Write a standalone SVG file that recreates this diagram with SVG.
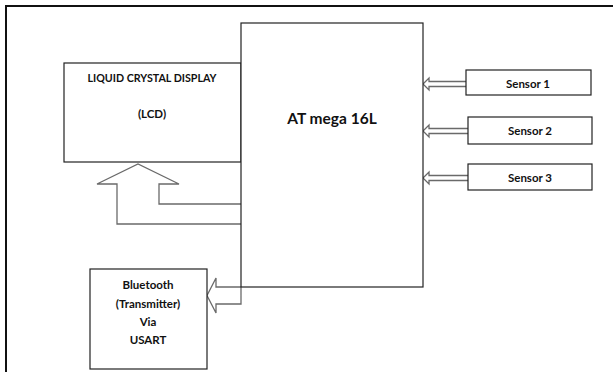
<svg xmlns="http://www.w3.org/2000/svg" width="613" height="372" viewBox="0 0 613 372">
<style>
.box{fill:#fff;stroke:#222;stroke-width:1.2}
.arr{fill:#fff;stroke:#6a6a6a;stroke-width:1.3;stroke-linejoin:miter}
.t{font-family:Lato,"Open Sans","Liberation Sans",sans-serif;font-weight:bold;fill:#111;text-anchor:middle}
.s{font-size:11.5px}
.m{font-size:15.5px}
</style>
<rect width="613" height="372" fill="#fff"/>
<path d="M6 372 V6 H613" fill="none" stroke="#111" stroke-width="2"/>
<g id="connectors">
<path class="arr" d="M241 224 H117 V184 H97 L138 164 L179 184 H159 V204 H241"/>
<path class="arr" d="M241 287 V304 H216 V313 L207 295.5 L216 278 V287 Z"/>
<path class="arr" d="M466 81.5 H429 V78 L423 84 L429 90 V86.5 H466"/>
<path class="arr" d="M468 128.5 H429 V125 L423 131 L429 137 V133.5 H468"/>
<path class="arr" d="M468 175.5 H429 V172 L423 178 L429 184 V180.5 H468"/>
</g>
<g id="lcd">
<rect class="box" x="64" y="63" width="177" height="99"/>
<text class="t s" x="152" y="82" textLength="129" lengthAdjust="spacingAndGlyphs">LIQUID CRYSTAL DISPLAY</text>
<text class="t s" x="152" y="118">(LCD)</text>
</g>
<g id="atmega">
<rect class="box" x="241" y="23" width="182" height="264"/>
<text class="t m" x="332" y="124">AT mega 16L</text>
</g>
<g id="bluetooth">
<rect class="box" x="90" y="269" width="117" height="100"/>
<text class="t s" x="148" y="289">Bluetooth</text>
<text class="t s" x="148" y="308">(Transmitter)</text>
<text class="t s" x="148" y="326">Via</text>
<text class="t s" x="148" y="344">USART</text>
</g>
<g id="sensor1">
<rect class="box" x="466" y="70" width="125" height="25"/>
<text class="t s" x="528" y="88">Sensor 1</text>
</g>
<g id="sensor2">
<rect class="box" x="468" y="117" width="124" height="27"/>
<text class="t s" x="530" y="135">Sensor 2</text>
</g>
<g id="sensor3">
<rect class="box" x="468" y="164" width="124" height="26"/>
<text class="t s" x="530" y="182">Sensor 3</text>
</g>
</svg>
